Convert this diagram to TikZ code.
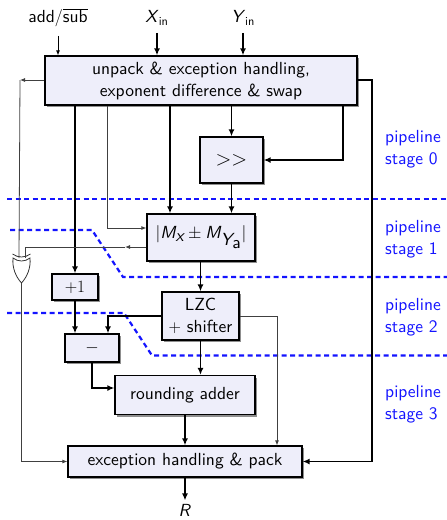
\documentclass[tikz,border=0pt]{standalone}
\usepackage{fontspec}
\setsansfont{lmsans10-regular.otf}[
  ItalicFont=lmsans10-oblique.otf,
  SlantedFont=lmsans10-oblique.otf,
  BoldFont=lmsans10-bold.otf]
\usetikzlibrary{arrows.meta,shadows,calc}
\definecolor{boxfill}{RGB}{238,238,250}
\definecolor{stageblue}{RGB}{20,20,255}
\newcommand\dsize{\fontsize{17.5}{22}\selectfont}
\newcommand\itsf[1]{\textsf{\slshape #1}}
\begin{document}
\begin{tikzpicture}[x=1pt,y=-1pt,
  font=\sffamily\dsize,
  blk/.style={draw, line width=1.3pt, fill=boxfill, inner sep=0pt, align=center,
    drop shadow={shadow xshift=2pt, shadow yshift=-2pt, fill=black!55, opacity=0.8}},
  bus/.style={line width=1.6pt, -{Latex[length=7pt,width=6pt]}},
  sig/.style={line width=0.8pt, draw=black!75, -{Latex[length=5pt,width=4pt]}},
  sigline/.style={line width=0.8pt, draw=black!75},
  stage/.style={draw=stageblue, line width=2.2pt, dash pattern=on 5pt off 3.5pt},
  stagelbl/.style={text=stageblue, anchor=west, align=left, inner sep=0pt}]
\useasboundingbox (0,0) rectangle (447,520);

% inputs
\node (addsub) at (58,18) {add$/$$\overline{\hbox{sub}}$};
\node (xin) at (157,18) {\itsf{X}\textsubscript{in}};
\node (yin) at (243,18) {\itsf{Y}\textsubscript{in}};

% blocks
\node[blk, minimum width=312pt, minimum height=49pt] (unpack) at (201,80.5)
  {unpack \& exception handling,\\exponent difference \& swap};
\node[blk, minimum width=63pt, minimum height=46pt, font=\sffamily\fontsize{21}{22}\selectfont] (shift) at (231.5,160) {$>>$};
\node[blk, minimum width=108pt, minimum height=47pt] (absadd) at (201,237.5)
  {$|\itsf{M}_{\itsf{x}} \pm \itsf{M}_{\itsf{Y}_{\textsf{a}}}|$};
\node[blk, minimum width=46pt, minimum height=26pt] (inc) at (75,287) {$+1$};
\node[blk, minimum width=77pt, minimum height=48pt] (lzc) at (200.5,316) {LZC\\$+$ shifter};
\node[blk, minimum width=54pt, minimum height=28pt] (expsub) at (92,348) {$-$};
\node[blk, minimum width=140pt, minimum height=39pt] (round) at (185,395) {rounding adder};
\node[blk, minimum width=234pt, minimum height=31pt] (pack) at (185,461.5) {exception handling \& pack};
\node (res) at (185,510) {\itsf{R}};

% XOR gate for the effective sign
\coordinate (xorA) at (19,258);
\coordinate (xorB) at (25,258);
\coordinate (xorOut) at (21.5,283);
\draw[line width=0.8pt, draw=black!80] (12.5,254) .. controls (18,258) and (25,258) .. (30.5,254);
\draw[line width=0.8pt, draw=black!80, fill=white]
  (13,258) .. controls (18,262) and (25,262) .. (30,258)
  .. controls (31,268) and (27,277) .. (xorOut)
  .. controls (16,277) and (12,268) .. (13,258) -- cycle;

% pipeline register boundaries
\draw[stage] (7,199) -- (447,199);
\draw[stage] (10,230) -- (92,230) -- (123,277) -- (447,277);
\draw[stage] (7,313) -- (124,313) -- (152,355.5) -- (447,355.5);

\node[stagelbl] at (385,149) {pipeline\\stage 0};
\node[stagelbl] at (385,239) {pipeline\\stage 1};
\node[stagelbl] at (385,317) {pipeline\\stage 2};
\node[stagelbl] at (385,404) {pipeline\\stage 3};

% input wires
\draw[sig, draw=black] (addsub.south) ++(0,5) -- (unpack.north -| addsub);
\draw[bus] (xin.south) ++(0,4) -- (unpack.north -| xin);
\draw[bus] (yin.south) ++(0,4) -- (unpack.north -| yin);

% datapath
\coordinate (tapA) at (107,228);
\coordinate (tapB) at (343,160);
\coordinate (tapC) at (372,80);
\draw[bus] (unpack.south -| inc) -- (inc.north);
\draw[sig] (unpack.south -| tapA) -- (tapA) -- (tapA -| absadd.west);
\draw[bus] (unpack.south -| 170,0) -- (absadd.north -| 170,0);
\draw[bus] (unpack.south -| shift) -- (shift.north);
\draw[bus] (unpack.south -| tapB) -- (tapB) -- (shift.east);
\draw[bus] (unpack.east |- tapC) -- (tapC) |- (pack.east);
\draw[bus] (shift.south) -- (absadd.north -| shift);
\draw[bus] (absadd.south -| lzc) -- (lzc.north);
\draw[bus] (inc.south) -- (expsub.north -| inc);
\draw[bus] (lzc.west) -| (expsub.north -| 108,0);
\draw[sig] (lzc.east) -| (pack.north -| 277,0);
\draw[bus] (lzc.south) -- (round.north -| lzc);
\draw[bus] (expsub.south) |- (round.west |- 0,388);
\draw[bus] (round.south) -- (pack.north);
\draw[bus] (pack.south) -- (res.north);

% sign logic
\coordinate (signL) at (20,80);
\coordinate (signR) at (125,247);
\draw[sig] (unpack.west |- signL) -- (signL);
\draw[sigline] (signL) -- (xorA);
\draw[sig] (absadd.west |- signR) -- (signR);
\draw[sigline] (signR) -| (xorB);
\draw[sig] (xorOut) |- (pack.west);
\end{tikzpicture}
\end{document}
